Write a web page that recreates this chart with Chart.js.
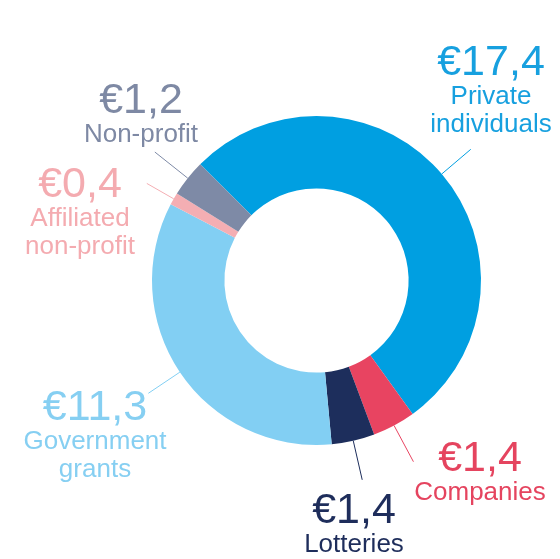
<!DOCTYPE html>
<html>
<head>
<meta charset="utf-8">
<script src="https://cdn.jsdelivr.net/npm/chart.js@4/dist/chart.umd.min.js"></script>
<style>
html,body{margin:0;padding:0;background:#fff;}
#wrap{width:560px;height:559px;position:relative;}
</style>
</head>
<body>
<div id="wrap"><canvas id="c" width="560" height="559"></canvas></div>
<script>
const categories = ["Private individuals", "Companies", "Lotteries", "Government grants", "Affiliated non-profit", "Non-profit"];
const valueLabels = ["€17,4", "€1,4", "€1,4", "€11,3", "€0,4", "€1,2"];
const nameLines = [["Private", "individuals"], ["Companies"], ["Lotteries"], ["Government", "grants"], ["Affiliated", "non-profit"], ["Non-profit"]];
const values = [17.4, 1.4, 1.4, 11.3, 0.4, 1.2];
const colors = ["#009fe1", "#e84461", "#1d2e5c", "#82cff3", "#f4aeb3", "#7e8aa6"];
const textColors = ["#17a0df", "#e5445f", "#1e2d5b", "#86cff2", "#f4abb0", "#7e89a4"];

// label layout (centre x, value baseline y), leader lengths
const labelPos = [[491, 75], [480, 471], [354, 523], [95, 420], [80, 197], [141, 113]];
const leaderLen = [38, 41, 40, 38, 31, 42];

const FONT = '"Liberation Sans", Arial, Helvetica, sans-serif';

const labelPlugin = {
  id: 'labels',
  afterDatasetsDraw(chart) {
    const ctx = chart.ctx;
    const meta = chart.getDatasetMeta(0);
    ctx.save();
    meta.data.forEach((arc, i) => {
      const p = arc.getProps(['x', 'y', 'startAngle', 'endAngle', 'outerRadius'], true);
      const mid = (p.startAngle + p.endAngle) / 2;
      const r0 = p.outerRadius;
      const r1 = r0 + leaderLen[i];
      ctx.strokeStyle = colors[i];
      ctx.lineWidth = 1;
      ctx.beginPath();
      ctx.moveTo(p.x + Math.cos(mid) * r0, p.y + Math.sin(mid) * r0);
      ctx.lineTo(p.x + Math.cos(mid) * r1, p.y + Math.sin(mid) * r1);
      ctx.stroke();

      const [lx, ly] = labelPos[i];
      ctx.fillStyle = textColors[i];
      ctx.textAlign = 'center';
      ctx.textBaseline = 'alphabetic';
      ctx.font = '43px ' + FONT;
      ctx.fillText(valueLabels[i], lx, ly);
      ctx.font = '26px ' + FONT;
      nameLines[i].forEach((t, j) => {
        ctx.fillText(t, lx, ly + 29 + j * 28);
      });
    });
    ctx.restore();
  }
};

new Chart(document.getElementById('c'), {
  type: 'doughnut',
  data: {
    labels: categories,
    datasets: [{
      data: values,
      backgroundColor: colors,
      borderWidth: 0
    }]
  },
  options: {
    responsive: false,
    animation: false,
    rotation: -45,
    cutout: '56%',
    layout: { padding: { left: 152, right: 79, top: 116, bottom: 114 } },
    plugins: { legend: { display: false }, tooltip: { enabled: false } }
  },
  plugins: [labelPlugin]
});
</script>
</body>
</html>
